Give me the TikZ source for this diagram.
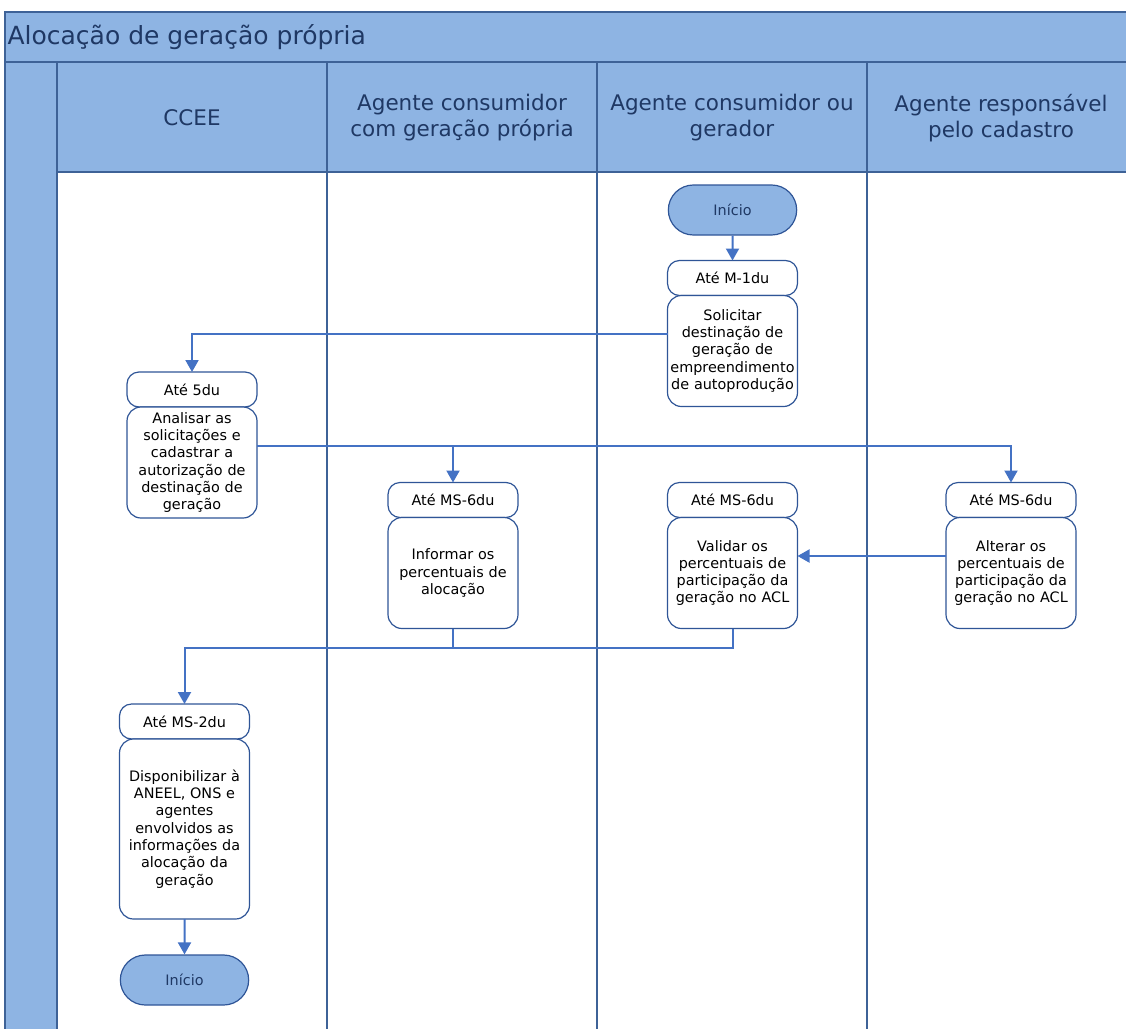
\documentclass[tikz,border=0pt]{standalone}
\usepackage{fontspec}
\setmainfont{DejaVu Sans}
\usetikzlibrary{positioning, arrows.meta, shapes.misc}
\definecolor{bandblue}{HTML}{8EB4E3}
\definecolor{laneline}{HTML}{3E6297}
\definecolor{flowblue}{HTML}{4472C4}
\definecolor{boxline}{HTML}{2F5597}
\definecolor{navytext}{HTML}{1F3864}

\begin{document}
\begin{tikzpicture}[x=1pt, y=-1pt,
    lanetitle/.style={font=\fontsize{21.5}{26}\selectfont, text=navytext, align=center},
    tag/.style={rectangle, rounded corners=12pt, draw=boxline, fill=white, line width=1.2pt, outer sep=0pt, minimum width=130pt, minimum height=35pt, font=\fontsize{14.4}{17.3}\selectfont},
    task/.style={rectangle, rounded corners=14pt, draw=boxline, fill=white, line width=1.2pt, outer sep=0pt, minimum width=130pt, minimum height=111pt, text width=128pt, inner xsep=1pt, align=center, font=\fontsize{14.4}{17.3}\selectfont},
    terminal/.style={rounded rectangle, draw=boxline, fill=bandblue, line width=1.2pt, minimum width=135pt, minimum height=50pt, font=\fontsize{14.4}{17.3}\selectfont, text=navytext},
    flow/.style={draw=flowblue, line width=2pt, -{Triangle[length=12pt, width=13pt]}},
    link/.style={draw=flowblue, line width=2pt},
]
\useasboundingbox (0,0) rectangle (1126,1028);
\clip (0,0) rectangle (1126,1028);

% Pool frame and lanes
\fill[bandblue] (5,12) rectangle (1140,172);
\fill[bandblue] (5,172) rectangle (57,1030);
\draw[laneline, line width=1.5pt] (5,1030) -- (5,12) -- (1140,12);
\draw[laneline, line width=1.5pt] (5,62) -- (1140,62);
\draw[laneline, line width=1.5pt] (57,172) -- (1140,172);
\foreach \lx in {57,327,597,867}
    \draw[laneline, line width=1.5pt] (\lx,62) -- (\lx,1030);

% Titles
\node[anchor=west, font=\fontsize{25}{30}\selectfont, text=navytext] (pooltitle) at (4,37) {Alocação de geração própria};
\node[lanetitle] (laneccee) at (192,118) {CCEE};
\node[lanetitle] (laneproprio) at (462,118) {Agente consumidor\\com geração própria};
\node[lanetitle] (laneagente) at (732,118) {Agente consumidor ou\\gerador};
\node[lanetitle] (lanecadastro) at (1001,118) {Agente responsável\\pelo cadastro};

% Start
\node[terminal] (inicio) at (732.5,210) {Início};

% Request of allocation
\node[tag] (tagsolicitar) at (732.5,278) {Até M-1du};
\node[task, below=0pt of tagsolicitar] (solicitar) {Solicitar\\destinação de\\geração de\\empreendimento\\de autoprodução};

% Analysis by CCEE
\node[tag] (taganalisar) at (192,389.5) {Até 5du};
\node[task, below=0pt of taganalisar] (analisar) {Analisar as\\solicitações e\\cadastrar a\\autorização de\\destinação de\\geração};

% Percentages
\node[tag] (taginformar) at (453,500) {Até MS-6du};
\node[task, below=0pt of taginformar] (informar) {Informar os\\percentuais de\\alocação};

\node[tag] (tagvalidar) at (732.5,500) {Até MS-6du};
\node[task, below=0pt of tagvalidar] (validar) {Validar os\\percentuais de\\participação da\\geração no ACL};

\node[tag] (tagalterar) at (1011,500) {Até MS-6du};
\node[task, below=0pt of tagalterar] (alterar) {Alterar os\\percentuais de\\participação da\\geração no ACL};

% Publication
\node[tag] (tagdisponibilizar) at (184.5,721.5) {Até MS-2du};
\node[task, minimum height=180pt, below=0pt of tagdisponibilizar] (disponibilizar) {Disponibilizar à\\ANEEL, ONS e\\agentes\\envolvidos as\\informações da\\alocação da\\geração};

% End
\node[terminal] (fim) at (184.5,980) {Início};

% Draw the arrows
\draw[flow] (inicio) -- (tagsolicitar);
\draw[flow] ([yshift=17.5pt]solicitar.west) -| (taganalisar.north);
\draw[flow] ([yshift=17pt]analisar.east) -| (tagalterar.north);
\draw[flow] ([yshift=17pt]analisar.east) -| (taginformar.north);
\draw[flow] ([yshift=17pt]alterar.west) -- ([yshift=17pt]validar.east);
\coordinate (merge) at ([yshift=-19pt]informar.south);
\draw[link] (informar.south) -- (merge);
\draw[flow] (validar.south) |- (merge) -| (tagdisponibilizar.north);
\draw[flow] (disponibilizar) -- (fim);

\end{tikzpicture}
\end{document}
